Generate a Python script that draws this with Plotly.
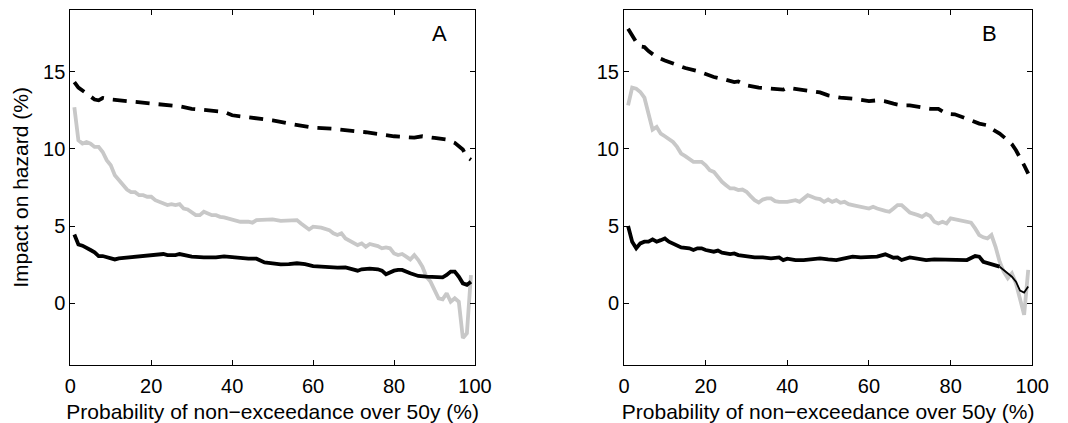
import plotly.graph_objects as go

# ---------------- Panel A ----------------
a_dash_x = [1, 2, 4, 6, 7, 8, 10, 12, 15, 20, 25, 27, 30, 35, 38, 40, 45, 50, 55, 60, 65, 70, 73, 75, 80, 85, 87, 90, 93, 95, 97, 98, 99]
a_dash_y = [14.33, 13.97, 13.6, 13.2, 13.15, 13.3, 13.2, 13.15, 13.04, 12.93, 12.82, 12.76, 12.6, 12.46, 12.4, 12.18, 12.03, 11.85, 11.6, 11.38, 11.3, 11.2, 11.08, 11.0, 10.82, 10.73, 10.82, 10.71, 10.6, 10.39, 9.96, 9.48, 9.3]

a_gray_x = [1, 2, 3, 4, 5, 6, 7, 8, 9, 10, 11, 12, 13, 14, 15, 16, 17, 18, 19, 20, 21, 22, 23, 24, 25, 26, 27, 28, 29, 30,
            31, 32, 33, 34, 35, 36, 37, 38, 40, 42, 44, 45, 46, 48, 50, 52, 54, 56, 57, 58, 59, 60, 62, 64, 65, 66, 67, 68, 70,
            71, 72, 73, 74, 76, 77, 78, 79, 80, 81, 82, 83, 84, 85, 86, 87, 88, 89, 90, 91, 92, 93, 94, 95, 96, 97, 98, 99]
a_gray_y = [12.7, 10.56, 10.34, 10.45, 10.34, 10.13, 10.13, 9.8, 9.27, 8.94, 8.3, 7.97, 7.65, 7.37, 7.2, 7.2, 7.0, 7.0, 6.9, 6.9,
            6.68, 6.57, 6.47, 6.36, 6.42, 6.36, 6.42, 6.14, 6.08, 5.93, 5.71, 5.71, 5.93, 5.82, 5.71, 5.71, 5.6, 5.56, 5.39, 5.28,
            5.28, 5.22, 5.39, 5.43, 5.43, 5.34, 5.39, 5.39, 5.17, 4.96, 4.78, 4.96, 4.9, 4.74, 4.53, 4.42, 4.53, 4.2, 3.88, 3.77,
            3.88, 3.66, 3.84, 3.7, 3.56, 3.62, 3.56, 3.23, 3.12, 3.19, 3.02, 2.84, 3.12, 2.8, 2.37, 1.72, 1.4, 0.86, 0.32, 0.26,
            0.65, 0.1, 0.32, 0.1, -2.26, -1.94, 1.83]

a_black_x = [1, 2, 3, 4, 5, 6, 7, 8, 9, 10, 11, 12, 14, 16, 18, 20, 22, 23, 24, 26, 27, 28, 30, 33, 36, 38, 40, 42, 44, 46, 48,
             50, 52, 54, 56, 58, 60, 62, 64, 66, 68, 70, 71, 72, 74, 76, 77, 78, 79, 80, 81, 82, 84, 86, 88, 90, 92, 93, 94,
             95, 96, 97, 98, 99]
a_black_y = [4.46, 3.81, 3.73, 3.62, 3.45, 3.3, 3.06, 3.06, 2.97, 2.91, 2.84, 2.91, 2.95, 3.02, 3.06, 3.12, 3.12, 3.19, 3.12,
             3.12, 3.19, 3.12, 3.02, 2.97, 2.97, 3.04, 2.97, 2.91, 2.89, 2.89, 2.65, 2.59, 2.52, 2.54, 2.59, 2.54, 2.41, 2.37,
             2.31, 2.31, 2.33, 2.2, 2.11, 2.2, 2.24, 2.2, 2.11, 1.88, 2.03, 2.11, 2.16, 2.16, 1.94, 1.77, 1.72, 1.68, 1.68,
             1.83, 2.05, 2.05, 1.72, 1.29, 1.19, 1.4]

# ---------------- Panel B ----------------
b_dash_x = [1, 2, 3, 4, 5, 6, 8, 10, 12, 15, 18, 20, 22, 25, 27, 28, 30, 33, 36, 39, 40, 42, 45, 48, 50, 53, 56, 58, 60, 62,
            64, 66, 68, 70, 72, 75, 77, 79, 81, 83, 85, 87, 89, 90, 92, 94, 95, 96, 97, 98, 99]
b_dash_y = [17.78, 17.35, 16.92, 16.64, 16.6, 16.34, 15.95, 15.73, 15.52, 15.24, 15.04, 14.87, 14.66, 14.48, 14.33, 14.37,
            14.12, 13.97, 13.9, 13.84, 13.97, 13.88, 13.75, 13.66, 13.47, 13.32, 13.25, 13.15, 13.1, 13.15, 13.08, 12.93,
            12.82, 12.82, 12.72, 12.6, 12.6, 12.28, 12.24, 12.07, 11.85, 11.64, 11.53, 11.31, 10.99, 10.56, 10.3, 9.91,
            9.48, 8.94, 8.4]

b_gray_x = [1, 2, 3, 4, 5, 6, 7, 8, 9, 10, 11, 12, 13, 14, 15, 16, 17, 18, 19, 20, 21, 22, 23, 24, 25, 26, 27, 28, 29, 30,
            31, 32, 33, 34, 35, 36, 37, 38, 40, 42, 43, 45, 46, 47, 48, 49, 50, 51, 52, 53, 54, 55, 56, 58, 60, 61, 62, 64,
            65, 66, 67, 68, 69, 70, 72, 73, 74, 75, 76, 77, 78, 79, 80, 82, 84, 85, 86, 87, 88, 89, 90, 91, 92, 93, 94, 95,
            96, 97, 98, 99]
b_gray_y = [12.82, 13.97, 13.9, 13.69, 13.32, 12.18, 11.25, 11.42, 10.99, 10.82, 10.67, 10.45, 10.13, 9.7, 9.53, 9.31, 9.16,
            9.16, 9.16, 8.94, 8.62, 8.51, 8.19, 7.87, 7.65, 7.44, 7.44, 7.33, 7.37, 7.22, 6.94, 6.68, 6.53, 6.72, 6.79, 6.79,
            6.62, 6.57, 6.57, 6.68, 6.57, 7.0, 6.9, 6.79, 6.75, 6.57, 6.72, 6.57, 6.68, 6.51, 6.57, 6.42, 6.36, 6.25, 6.14,
            6.25, 6.14, 5.99, 5.93, 6.14, 6.36, 6.36, 6.14, 5.88, 5.71, 5.6, 5.78, 5.65, 5.28, 5.17, 5.28, 5.17, 5.5, 5.39,
            5.28, 5.22, 4.85, 4.42, 4.27, 4.2, 4.42, 3.66, 2.69, 2.05, 1.62, 1.94, 1.29, 0.22, -0.75, 2.16]

b_black_x = [1, 2, 3, 4, 5, 6, 7, 8, 9, 10, 11, 12, 13, 14, 16, 17, 18, 19, 20, 22, 23, 24, 26, 27, 28, 30, 32, 34, 36, 38,
             39, 40, 42, 44, 46, 48, 50, 52, 54, 56, 58, 60, 62, 64, 66, 67, 68, 70, 72, 74, 76, 78, 80, 82, 84, 86, 87, 88,
             90, 91, 92, 93, 94, 95, 96, 97, 98, 99]
b_black_y = [5.0, 3.99, 3.56, 3.88, 3.99, 3.99, 4.14, 3.99, 4.09, 4.2, 3.99, 3.88, 3.73, 3.62, 3.56, 3.45, 3.56, 3.56, 3.45,
             3.34, 3.41, 3.28, 3.19, 3.23, 3.12, 3.02, 2.97, 2.97, 2.91, 2.97, 2.8, 2.89, 2.8, 2.8, 2.87, 2.91, 2.84, 2.8,
             2.91, 3.02, 2.97, 2.97, 3.02, 3.17, 2.95, 2.97, 2.8, 2.97, 2.91, 2.8, 2.84, 2.84, 2.84, 2.84, 2.8, 3.06, 3.02,
             2.69, 2.54, 2.48, 2.37, 2.16, 1.98, 1.72, 1.4, 0.82, 0.69, 1.08]

x_ticks = [0, 20, 40, 60, 80, 100]
y_ticks = [0, 5, 10, 15]
panel_labels = ["A", "B"]
x_title = "Probability of non\u2212exceedance over 50y (%)"
y_title = "Impact on hazard (%)"

GRAY = "rgb(200,200,200)"
FONT = "Liberation Sans, Arial, Helvetica, sans-serif"
LW = 3.8

fig = go.Figure()

def add_panel(xa, ya, dx, dy, gx, gy, bx, by, thin_from=None):
    fig.add_trace(go.Scatter(x=gx, y=gy, mode="lines", line=dict(color=GRAY, width=LW),
                             xaxis=xa, yaxis=ya, showlegend=False))
    if thin_from is None:
        fig.add_trace(go.Scatter(x=bx, y=by, mode="lines", line=dict(color="black", width=LW),
                                 xaxis=xa, yaxis=ya, showlegend=False))
    else:
        i = bx.index(thin_from)
        fig.add_trace(go.Scatter(x=bx[:i + 1], y=by[:i + 1], mode="lines", line=dict(color="black", width=LW),
                                 xaxis=xa, yaxis=ya, showlegend=False))
        fig.add_trace(go.Scatter(x=bx[i:], y=by[i:], mode="lines", line=dict(color="black", width=1.8),
                                 xaxis=xa, yaxis=ya, showlegend=False))
    fig.add_trace(go.Scatter(x=dx, y=dy, mode="lines", line=dict(color="black", width=LW, dash="14px,9px"),
                             xaxis=xa, yaxis=ya, showlegend=False))

add_panel("x", "y", a_dash_x, a_dash_y, a_gray_x, a_gray_y, a_black_x, a_black_y)
add_panel("x2", "y2", b_dash_x, b_dash_y, b_gray_x, b_gray_y, b_black_x, b_black_y, thin_from=92)

axis_common = dict(showline=True, linecolor="black", linewidth=1, mirror="ticks", ticks="inside",
                   ticklen=5, tickcolor="black", tickwidth=1, showgrid=False, zeroline=False,
                   automargin=False,
                   tickfont=dict(family=FONT, size=20, color="black"))

y_dom = [1 - 365 / 423, 1 - 10 / 423]
fig.update_layout(
    template="none",
    width=1068, height=423,
    margin=dict(l=0, r=0, t=0, b=0, pad=0),
    paper_bgcolor="white", plot_bgcolor="white",
    font=dict(family=FONT, color="black"),
    xaxis=dict(domain=[70.3 / 1068, 475 / 1068], range=[0, 100], tickvals=x_ticks, anchor="y",
               ticklabelstandoff=3,
               title=dict(text=x_title, font=dict(family=FONT, size=21), standoff=8), **axis_common),
    yaxis=dict(domain=y_dom, range=[-4, 19], tickvals=y_ticks, anchor="x",
               title=dict(text=y_title, font=dict(family=FONT, size=21), standoff=8), **axis_common),
    xaxis2=dict(domain=[624 / 1068, 1032.3 / 1068], range=[0, 100], tickvals=x_ticks, anchor="y2",
                ticklabelstandoff=3,
                title=dict(text=x_title, font=dict(family=FONT, size=21), standoff=8), **axis_common),
    yaxis2=dict(domain=y_dom, range=[-4, 19], tickvals=y_ticks, anchor="x2", **axis_common),
    annotations=[
        dict(text=panel_labels[0], x=91.3, y=17.5, xref="x", yref="y", showarrow=False,
             font=dict(family=FONT, size=22, color="black")),
        dict(text=panel_labels[1], x=89.5, y=17.5, xref="x2", yref="y2", showarrow=False,
             font=dict(family=FONT, size=22, color="black")),
    ],
)

fig.write_html("out.html", config={"displayModeBar": False},
               post_script="document.body.style.margin='0px';document.body.style.overflow='hidden';")
